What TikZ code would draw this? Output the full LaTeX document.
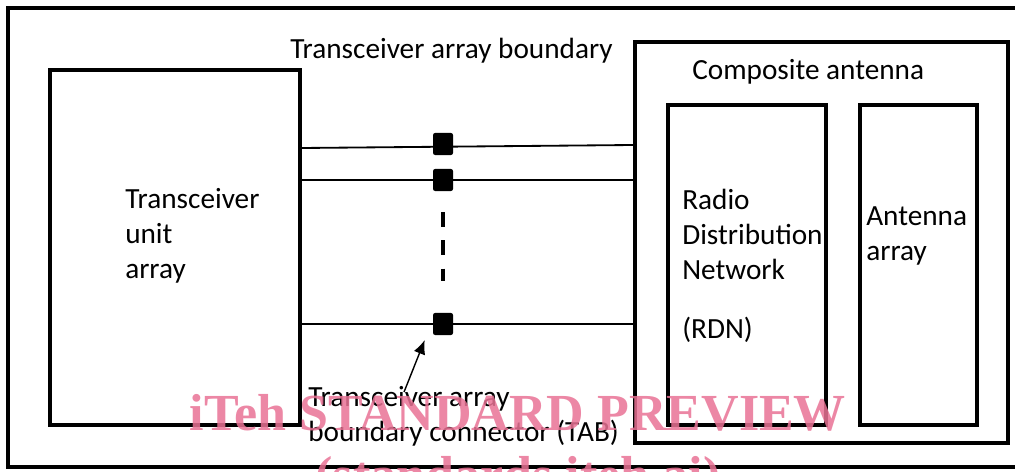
\documentclass[tikz,border=0pt]{standalone}
\usepackage{fontspec}
\setmainfont{Carlito}
\newfontfamily\wmfont{Liberation Serif}
\usetikzlibrary{arrows.meta,positioning}
\definecolor{wmpink}{RGB}{233,114,149}
\begin{document}
\begin{tikzpicture}[x=0.025cm,y=-0.025cm,>=Latex,
  blockbox/.style={draw,line width=2.9pt,minimum width=#1,inner sep=0pt},
  tabbox/.style={fill=black,rounded corners=1.5pt,minimum width=0.5cm,minimum height=0.55cm,inner sep=0pt},
  lbl/.style={font=\fontsize{20.8}{25}\selectfont,align=left,inner sep=0pt},
  link/.style={line width=1.3pt}]
\useasboundingbox (0,0) rectangle (1015,472);
\draw[line width=2.9pt] (1040,8) -- (8,8) -- (8,467) -- (1040,467);
\node[blockbox=6.25cm,minimum height=8.875cm] (tua) at (175,247.5) {};
\node[blockbox=9.325cm,minimum height=10.025cm] (ca) at (821.5,242.5) {};
\node[blockbox=3.95cm,minimum height=8cm] (rdn) at (747,265) {};
\node[blockbox=2.925cm,minimum height=8cm] (aa) at (918.5,265) {};
\node[lbl,anchor=west] (tual) at (125,236) {Transceiver\\unit\\array};
\node[lbl,anchor=north west] (rdnl) at (682,189) {Radio\\Distribution\\Network\\[17pt](RDN)};
\node[lbl,anchor=north west] (aal) at (866,206) {Antenna\\array};
\node[lbl,anchor=west] (tabl) at (290,51) {Transceiver array boundary};
\node[lbl,anchor=west] (cal) at (692,72) {Composite antenna};
\node[lbl,anchor=north west] (tabcl) at (308,386) {Transceiver array\\boundary connector (TAB)};
\node[tabbox] (tab1) at (443,144) {};
\node[tabbox] (tab2) at (443,180) {};
\node[tabbox] (tab3) at (443,324) {};
\draw[link] (tua.east |- 0,148) -- (ca.west |- 0,145);
\draw[link] (tua.east |- tab2) -- (tab2) -- (ca.west |- tab2);
\draw[link] (tua.east |- tab3) -- (tab3) -- (ca.west |- tab3);
\draw[line width=3pt,dash pattern=on 0.375cm off 0.33cm] ([yshift=-0.525cm]tab2.south) -- ([yshift=0.8cm]tab3.north);
\draw[->,line width=1pt,{Latex[length=0.35cm,width=0.3cm]}-] ([xshift=-0.2cm,yshift=-0.12cm]tab3.south west) -- ([xshift=2.4cm,yshift=-0.15cm]tabcl.north west);
\node[font=\wmfont\bfseries\fontsize{37}{44}\selectfont,text=wmpink,opacity=0.85,align=center,inner sep=0pt] (wm) at (518,449) {iTeh STANDARD PREVIEW\\(standards.iteh.ai)};
\end{tikzpicture}
\end{document}
